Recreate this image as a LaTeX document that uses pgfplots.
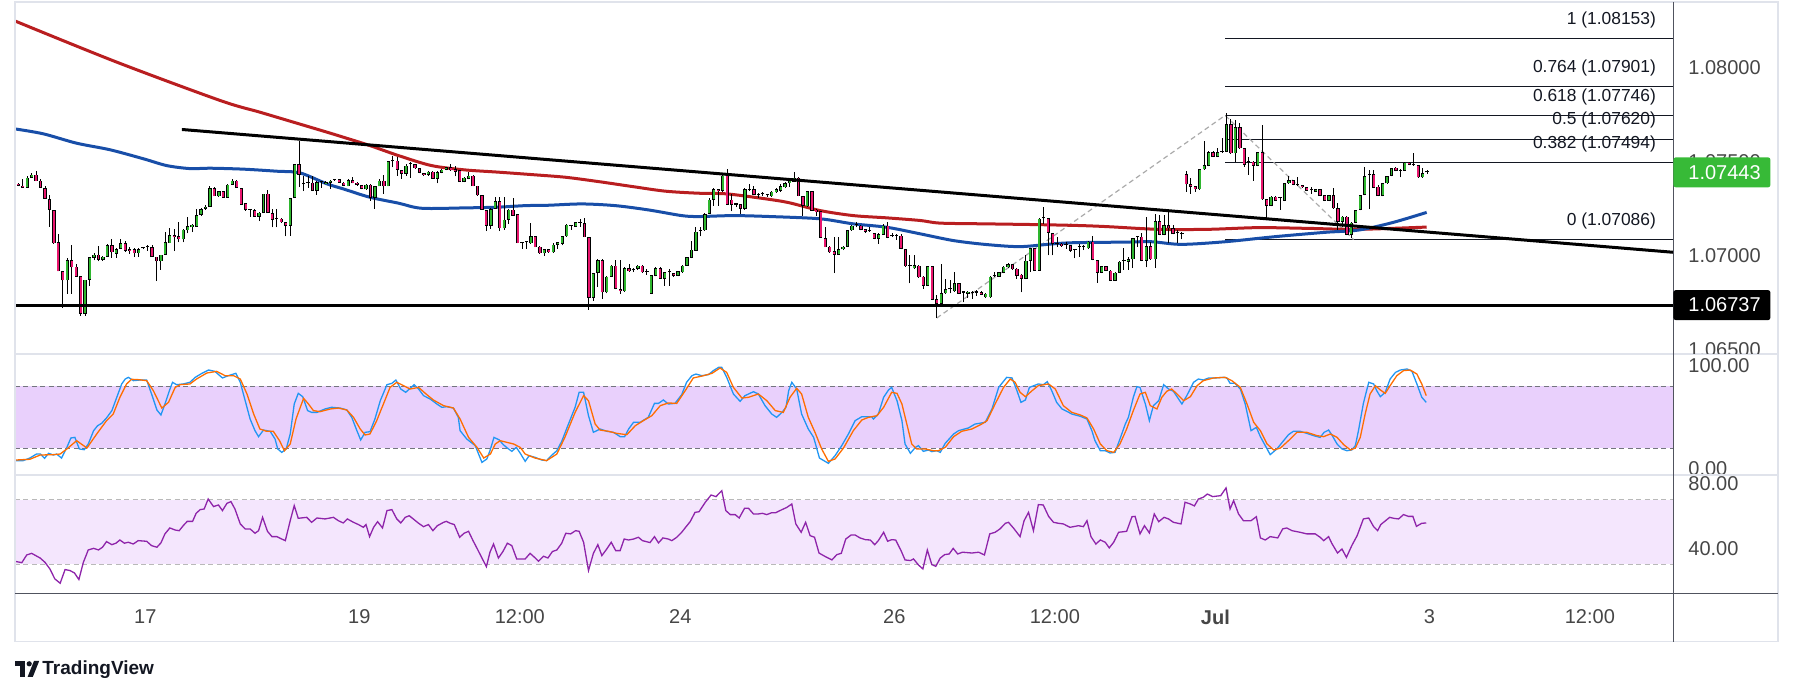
\documentclass[border=0pt]{standalone}
\usepackage{fontspec}
\setmainfont{Liberation Sans}
\usepackage{pgfplots}
\pgfplotsset{compat=1.18}
\usepackage{pgfplotstable}

\definecolor{upc}{RGB}{46,182,46}
\definecolor{dnc}{RGB}{233,22,110}
\definecolor{mared}{RGB}{185,30,32}
\definecolor{mablue}{RGB}{24,78,168}
\definecolor{stk}{RGB}{33,150,243}
\definecolor{std}{RGB}{255,109,0}
\definecolor{rsic}{RGB}{142,36,170}
\definecolor{bandA}{RGB}{233,208,252}
\definecolor{bandB}{RGB}{244,230,253}
\definecolor{framec}{RGB}{224,227,235}
\definecolor{dkline}{RGB}{80,83,94}
\definecolor{scaletxt}{RGB}{70,70,70}
\definecolor{tagc}{RGB}{55,186,55}
\definecolor{dashc}{RGB}{170,170,170}
\definecolor{tvdark}{RGB}{19,23,34}

% candles: n = hourly bar index, prices in pips above 1.06000 (e.g. 144.3 = 1.07443)
\pgfplotstableread{
n o h l c
-28 138.2 138.5 136.8 137.1
-27 137.3 140.8 136.0 136.0
-26 136.0 142.1 136.0 141.4
-25 141.4 143.8 141.4 143.1
-24 143.1 144.9 139.6 139.6
-23 139.9 140.7 136.0 136.0
-22 136.0 136.9 130.2 130.2
-21 130.2 132.0 115.5 124.3
-20 124.3 124.3 106.3 106.6
-19 107.3 111.6 91.7 91.7
-18 91.7 91.7 72.2 86.8
-17 86.8 98.8 79.7 97.7
-16 97.7 105.7 79.7 93.8
-15 94.2 95.3 88.9 88.9
-14 89.2 89.2 68.1 69.0
-13 69.0 87.3 68.1 87.3
-12 87.3 99.2 84.1 99.2
-11 98.8 101.3 97.5 100.6
-10 100.6 105.0 97.0 97.7
-9 97.7 99.8 97.2 99.5
-8 99.5 106.0 99.5 105.7
-7 105.7 108.9 98.8 101.8
-6 100.9 104.0 98.8 103.6
-5 103.6 108.9 103.6 106.6
-4 106.6 108.0 102.0 102.4
-3 103.6 104.8 100.9 102.4
-2 103.6 104.0 99.2 101.3
-1 101.3 104.0 99.2 103.6
0 103.9 104.5 103.4 104.1
1 104.4 105.4 102.7 104.6
2 104.5 105.4 99.2 99.2
3 99.5 99.5 86.4 97.0
4 97.0 100.6 92.4 100.6
5 100.6 112.5 100.6 107.1
6 106.6 114.6 106.6 111.0
7 111.0 114.2 102.4 109.8
8 110.2 117.8 107.1 108.7
9 108.7 114.2 107.1 113.9
10 113.4 120.8 111.9 115.8
11 115.1 117.0 112.5 116.5
12 115.5 124.9 115.5 121.7
13 121.7 125.5 121.0 124.9
14 124.9 127.2 124.3 126.1
15 125.8 137.3 125.8 136.0
16 136.0 136.4 131.6 131.6
17 131.6 134.6 131.3 134.3
18 134.3 134.6 130.7 130.7
19 130.7 138.0 130.7 137.8
20 137.8 140.5 137.8 139.9
21 139.9 140.3 136.0 136.0
22 136.0 136.0 127.2 127.2
23 127.9 127.9 124.0 124.3
24 124.7 125.0 120.8 124.5
25 124.3 125.0 120.8 120.8
26 120.8 123.3 118.3 122.9
27 122.6 132.9 122.6 132.9
28 132.9 135.0 122.6 122.6
29 122.6 124.9 115.1 119.0
30 119.6 124.9 115.1 119.4
31 119.6 119.9 117.5 117.8
32 117.8 118.0 110.2 116.0
33 116.0 130.7 110.7 130.7
34 130.7 149.0 130.7 148.5
35 148.5 161.2 136.4 143.1
36 138.2 142.1 134.3 138.0
37 138.9 142.1 136.0 138.8
38 138.9 142.6 134.3 134.6
39 134.6 139.5 132.3 139.2
40 139.2 139.6 136.0 139.3
41 138.2 139.6 138.0 139.2
42 138.9 140.2 135.5 139.9
43 140.2 140.6 139.8 140.4
44 140.7 140.9 138.9 138.9
45 138.9 139.0 137.0 137.1
46 136.8 140.7 136.8 140.3
47 140.3 141.7 138.5 138.5
48 138.9 139.0 137.3 137.5
49 137.5 137.5 135.3 135.5
50 135.3 138.0 135.0 137.8
51 137.8 138.0 129.3 130.7
52 130.7 137.1 124.9 136.8
53 136.8 140.5 136.8 139.9
54 139.9 143.1 132.9 136.8
55 136.8 150.6 136.8 150.1
56 150.1 153.2 147.0 150.3
57 150.6 152.4 142.6 145.6
58 145.6 145.8 140.8 143.5
59 143.5 148.5 142.6 147.9
60 148.7 149.7 141.4 148.8
61 148.8 149.0 146.3 146.5
62 146.5 146.6 143.8 144.0
63 144.0 144.0 142.3 142.8
64 142.8 145.2 142.6 144.7
65 144.7 145.2 140.8 140.8
66 140.8 145.0 138.5 144.4
67 144.0 146.0 143.8 145.8
68 145.6 147.2 145.4 147.0
69 147.0 148.5 145.0 145.3
70 146.1 147.9 142.1 144.7
71 145.3 145.5 139.1 139.1
72 139.1 141.6 139.0 141.4
73 140.8 144.4 140.5 142.6
74 142.6 142.8 136.8 136.8
75 137.3 137.3 131.8 132.0
76 132.3 132.5 124.3 124.3
77 124.3 124.5 113.0 116.0
78 116.0 125.2 114.2 124.9
79 124.9 131.4 124.9 128.8
80 128.8 131.4 113.0 114.6
81 114.6 131.1 113.9 119.2
82 119.2 125.0 116.9 124.5
83 124.5 130.7 121.0 121.3
84 121.9 122.4 106.6 106.6
85 106.6 107.0 103.6 106.8
86 107.0 107.4 103.8 107.2
87 106.6 117.6 106.3 110.2
88 110.2 110.5 104.5 104.5
89 104.8 105.0 101.0 101.3
90 101.3 103.8 100.0 103.6
91 103.6 103.8 101.6 101.8
92 101.8 106.5 101.6 105.9
93 105.9 107.5 103.6 107.1
94 106.3 110.5 105.4 110.2
95 110.2 116.8 110.0 116.4
96 116.0 116.5 113.7 116.2
97 115.5 118.0 115.3 117.8
98 117.6 119.6 115.5 117.8
99 117.4 120.1 109.8 109.8
100 109.8 110.0 71.2 77.5
101 77.5 91.0 75.8 90.8
102 90.8 98.2 83.2 97.7
103 97.7 98.2 77.0 80.5
104 80.5 89.1 80.0 88.9
105 88.9 95.0 88.7 94.7
106 94.7 97.7 82.0 82.3
107 82.3 97.7 79.7 81.1
108 81.1 93.8 80.8 93.5
109 93.5 95.3 91.5 91.7
110 92.4 93.3 91.2 92.2
111 93.0 95.2 92.4 94.7
112 94.7 95.0 91.0 91.2
113 91.6 92.8 89.8 91.4
114 79.7 89.9 79.5 89.8
115 89.1 93.8 89.0 93.5
116 93.5 93.8 87.5 87.6
117 87.6 91.5 84.1 91.2
118 91.2 93.0 84.1 91.4
119 90.8 91.0 88.9 89.1
120 89.1 92.0 89.0 91.7
121 91.2 95.0 91.0 94.7
122 94.7 99.5 94.5 99.2
123 98.8 108.0 98.6 103.2
124 102.7 115.1 102.5 112.8
125 113.1 115.5 110.2 113.4
126 113.4 122.5 113.2 122.2
127 122.2 130.7 122.0 129.8
128 129.8 135.8 126.6 135.5
129 135.5 135.7 126.6 134.3
130 134.3 143.0 134.0 142.6
131 142.6 146.2 127.2 127.2
132 129.7 132.9 123.6 127.2
133 127.4 127.6 125.8 127.2
134 127.5 127.7 122.2 124.9
135 124.9 135.8 124.5 135.5
136 135.2 138.2 134.3 135.0
137 135.5 137.3 132.3 132.5
138 132.0 133.2 130.7 132.2
139 132.9 133.9 131.6 132.8
140 132.2 132.6 131.1 132.1
141 131.6 134.5 131.4 134.1
142 133.7 135.8 133.5 135.5
143 134.3 138.2 134.0 136.8
144 136.4 139.0 136.2 138.7
145 138.5 140.2 136.4 139.9
146 139.4 144.4 139.2 141.4
147 141.4 141.7 131.6 131.6
148 131.6 131.8 121.3 126.6
149 126.3 134.6 126.0 134.3
150 134.3 134.6 123.8 124.0
151 124.5 124.7 121.3 123.1
152 123.5 123.7 109.4 109.4
153 109.4 115.1 104.5 104.5
154 104.8 105.0 101.6 101.8
155 102.4 109.8 90.7 100.6
156 100.6 109.8 100.4 103.6
157 103.3 105.0 103.0 104.8
158 104.8 113.8 104.6 113.4
159 113.4 116.5 113.2 116.0
160 116.6 117.8 115.1 116.4
161 116.0 116.3 113.5 113.7
162 114.0 114.2 112.0 112.5
163 113.0 115.1 112.8 112.9
164 112.1 112.3 108.7 108.9
165 108.9 111.8 106.3 111.6
166 111.2 116.9 111.0 116.0
167 116.0 117.8 109.2 109.4
168 110.4 111.9 109.8 110.3
169 110.7 111.6 108.4 110.5
170 110.7 111.6 103.4 103.6
171 103.6 103.8 94.2 94.4
172 94.7 100.1 85.3 94.6
173 93.3 100.1 93.0 94.9
174 94.7 95.0 88.3 88.5
175 88.9 89.1 82.3 84.1
176 84.1 94.6 84.0 94.4
177 94.4 94.6 76.3 76.5
178 77.0 79.0 66.9 74.3
179 74.3 95.6 74.0 80.2
180 80.0 87.6 79.8 82.0
181 82.0 87.1 80.0 82.1
182 81.1 91.2 80.8 85.5
183 85.3 85.5 79.5 79.7
184 80.6 80.8 75.2 80.4
185 79.7 81.1 77.5 80.9
186 80.0 81.4 77.0 80.2
187 80.6 81.8 78.8 80.4
188 80.6 81.0 79.0 79.3
189 77.9 80.0 77.5 79.7
190 77.9 89.1 77.7 88.9
191 89.0 91.2 88.9 89.1
192 88.9 91.5 88.7 91.2
193 90.8 94.4 90.6 94.2
194 93.8 96.3 93.6 95.6
195 95.6 95.8 92.6 92.8
196 93.0 93.2 87.6 89.4
197 89.9 90.1 80.5 87.6
198 87.6 100.1 87.4 97.4
199 97.4 104.2 91.2 104.0
200 104.0 104.2 92.0 92.1
201 92.1 119.8 92.0 119.6
202 119.9 125.8 116.9 120.1
203 119.9 120.1 100.1 112.1
204 112.1 112.3 100.1 106.3
205 106.4 109.8 104.5 106.2
206 106.3 106.5 104.8 105.0
207 105.6 107.1 103.6 105.5
208 105.5 105.7 102.2 102.4
209 103.6 103.8 98.6 103.1
210 104.8 106.2 99.4 104.9
211 104.8 105.7 103.0 104.9
212 103.9 107.6 103.7 107.4
213 107.4 110.6 97.5 97.7
214 97.7 97.9 85.6 90.9
215 90.9 94.7 90.7 94.5
216 94.5 94.7 91.8 92.0
217 92.0 92.2 86.5 86.7
218 86.7 91.1 86.5 90.9
219 90.9 97.0 90.7 96.8
220 97.3 103.9 92.4 97.4
221 96.8 99.4 92.4 98.0
222 98.0 109.4 93.3 109.2
223 110.1 110.4 104.8 110.0
224 110.1 111.9 97.1 97.3
225 97.3 120.4 93.8 105.1
226 105.1 107.4 97.8 98.0
227 98.0 121.9 93.3 118.4
228 118.4 121.6 110.8 111.0
229 111.0 121.6 110.8 116.3
230 116.3 124.3 106.5 114.5
231 114.5 116.3 111.3 111.5
232 111.9 113.6 106.5 111.8
233 111.5 112.7 108.7 111.4
234 143.4 145.0 134.0 137.9
235 137.9 141.1 132.8 136.7
236 137.0 137.2 134.0 135.3
237 135.3 146.1 135.1 145.9
238 145.9 161.1 145.7 148.2
239 147.7 155.7 147.5 154.9
240 154.9 155.7 152.4 152.6
241 152.6 157.1 152.4 154.9
242 155.2 162.4 154.7 155.3
243 155.3 176.0 155.1 169.8
244 169.8 172.5 154.2 154.4
245 154.4 172.1 150.0 168.2
246 168.2 170.4 156.9 157.1
247 157.1 157.3 147.3 148.2
248 150.0 152.6 142.9 149.9
249 150.0 150.2 139.9 147.7
250 147.7 155.1 147.5 154.9
251 154.9 169.5 129.7 129.9
252 129.9 130.1 119.8 126.4
253 126.4 131.6 126.2 131.4
254 131.4 131.6 129.0 129.2
255 130.4 130.7 124.3 130.5
256 129.2 138.7 129.0 138.5
257 138.5 142.4 138.3 140.2
258 140.2 140.4 137.4 137.6
259 137.6 141.6 137.3 137.5
260 137.6 137.8 136.1 136.3
261 136.3 136.5 134.4 134.6
262 134.9 136.3 132.8 134.8
263 134.0 135.5 133.8 135.3
264 135.3 135.5 131.5 131.7
265 132.2 132.4 129.0 129.2
266 129.2 132.4 129.0 132.2
267 132.2 135.8 125.0 125.2
268 125.2 127.8 113.6 118.1
269 118.1 120.9 115.4 120.7
270 120.7 120.9 110.8 111.0
271 111.0 117.7 109.2 117.5
272 117.5 124.5 117.3 124.3
273 124.3 132.4 124.1 132.2
274 132.2 147.0 132.0 142.4
275 142.8 145.5 124.6 142.9
276 143.4 145.5 135.9 136.1
277 136.7 137.6 131.5 131.7
278 131.7 138.7 131.5 138.5
279 138.5 142.6 138.3 142.4
280 142.4 146.6 142.2 146.4
281 146.8 147.0 144.8 145.0
282 145.2 145.9 141.6 145.1
283 145.2 149.6 145.0 149.4
284 149.4 149.6 148.0 148.2
285 148.2 154.8 147.9 148.1
286 148.2 148.4 141.4 141.6
287 141.6 146.8 141.4 143.8
288 144.6 145.5 143.4 144.3
}\candles

\pgfplotsset{
  tvpane/.style={
    scale only axis, anchor=south west, width=829pt,
    xmin=-28.73, xmax=343.15,
    axis line style={draw=none}, major tick length=0pt,
    xtick=\empty, yticklabel pos=right,
    yticklabel style={anchor=west, inner sep=0pt, xshift=7.5pt,
      font=\fontsize{10}{12}\selectfont, text=scaletxt},
  },
  candle/.style={draw=none, mark=none, forget plot,
    error bars/y dir=plus, error bars/y explicit, error bars/error mark=none},
}
\tikzset{
  fiblab/.style={anchor=east, yshift=9.3pt, inner sep=0pt,
    font=\fontsize{8.7}{10}\selectfont, text=tvdark},
}

\begin{document}
\begin{tikzpicture}
\useasboundingbox (0,0) rectangle (896.5pt,347.5pt);

% ---------------- price pane ----------------
\begin{axis}[tvpane, at={(7.5pt,170.5pt)}, height=176pt,
  ymin=47.7, ymax=234.9,
  ytick={100,150,200}, yticklabels={1.07000,1.07500,1.08000}]
% fibonacci levels
\addplot[tvdark, line width=0.55pt] coordinates {(242.7,108.6) (343.15,108.6)};
\addplot[tvdark, line width=0.55pt] coordinates {(242.7,149.4) (343.15,149.4)};
\addplot[tvdark, line width=0.55pt] coordinates {(242.7,162.0) (343.15,162.0)};
\addplot[tvdark, line width=0.55pt] coordinates {(242.7,174.6) (343.15,174.6)};
\addplot[tvdark, line width=0.55pt] coordinates {(242.7,190.1) (343.15,190.1)};
\addplot[tvdark, line width=0.55pt] coordinates {(242.7,215.3) (343.15,215.3)};
\addplot[dashc, line width=0.6pt, dash pattern=on 2.5pt off 1.7pt]
  coordinates {(178,66.8) (242.7,174.6) (271.5,108.6)};
% moving averages
\addplot[mared, line width=1.5pt, smooth] coordinates {
(-28.73,224.8) (-6,203.0) (17.3,182.5) (26.2,176.3) (33.7,171.0) (41.2,165.7)
(44.9,163.0) (50.8,158.6) (57.3,153.2) (64.7,147.9) (72.2,145.6) (79.7,144.4)
(87.2,143.1) (94.7,141.7) (102.1,139.4) (109.6,136.8) (117.1,134.3) (124.6,133.2)
(130.6,132.9) (136.9,131.1) (144.4,128.4) (151.8,124.0) (159.3,121.3) (166.8,120.1)
(174.3,118.7) (178.8,117.3) (189.2,116.9) (200.5,116.5) (210.2,116.0) (216.5,115.4)
(227.7,114.0) (238.9,114.0) (250.1,114.9) (261.4,114.5) (272.6,114.0) (287.9,115.2)};
\addplot[mablue, line width=1.5pt, smooth] coordinates {
(-28.73,167.4) (-22.4,164.8) (-14.9,159.8) (-7.4,156.3) (0.1,151.5) (5.3,147.9)
(10.5,146.3) (15.0,146.5) (22.5,146.0) (30,144.9) (35.2,144.0) (41.2,138.2)
(44.9,135.5) (50.8,131.1) (57.3,127.9) (62.5,125.2) (72.2,125.4) (79.7,125.8)
(85.7,126.6) (90.9,126.8) (98.4,127.5) (105.9,126.6) (113.4,124.3) (120.8,121.3)
(124.6,120.8) (132.4,121.3) (140.6,120.8) (151.8,119.6) (159.3,116.9) (166.8,115.1)
(174.3,111.6) (181.8,108.0) (189.2,105.9) (196.7,104.8) (204.2,106.3) (209,106.9)
(220.2,107.2) (226.2,107.4) (232.9,106.0) (242.7,107.4) (253.9,110.1) (265.1,112.4)
(272.6,113.6) (280.1,117.5) (287.9,123.0)};
% candles: wicks, outlines, bodies
\addplot[candle, error bars/error bar style={line width=0.5pt, draw=black}]
  table[x=n, y=l, y error plus expr=\thisrow{h}-\thisrow{l}] {\candles};
\addplot[candle, error bars/error bar style={line width=1.65pt, draw=black}]
  table[x=n, y expr={min(\thisrow{o},\thisrow{c})},
        y error plus expr={max(abs(\thisrow{c}-\thisrow{o}),0.55)}] {\candles};
\addplot[candle, restrict expr to domain={\thisrow{c}-\thisrow{o}}{0:1000},
  error bars/error bar style={line width=0.95pt, draw=upc}]
  table[x=n, y expr={min(\thisrow{o},\thisrow{c})+0.36},
        y error plus expr={max(abs(\thisrow{c}-\thisrow{o})-0.72,0)}] {\candles};
\addplot[candle, restrict expr to domain={\thisrow{c}-\thisrow{o}}{-1000:-0.001},
  error bars/error bar style={line width=0.95pt, draw=dnc}]
  table[x=n, y expr={min(\thisrow{o},\thisrow{c})+0.36},
        y error plus expr={max(abs(\thisrow{c}-\thisrow{o})-0.72,0)}] {\candles};
% trend line and support
\addplot[black, line width=1.5pt] coordinates {(8.7,167.1) (343.15,101.8)};
\addplot[black, line width=1.6pt] coordinates {(-28.73,73.7) (343.15,73.7)};
% fib labels
\node[fiblab] at (axis cs:339.4,215.3) {1 (1.08153)};
\node[fiblab] at (axis cs:339.4,190.1) {0.764 (1.07901)};
\node[fiblab] at (axis cs:339.4,174.6) {0.618 (1.07746)};
\node[fiblab] at (axis cs:339.4,162.0) {0.5 (1.07620)};
\node[fiblab] at (axis cs:339.4,149.4) {0.382 (1.07494)};
\node[fiblab] at (axis cs:339.4,108.6) {0 (1.07086)};
\coordinate (gtag) at (axis cs:343.15,144.3);
\coordinate (btag) at (axis cs:343.15,73.7);
\end{axis}

% ---------------- stochastic pane ----------------
\begin{axis}[tvpane, at={(7.5pt,110pt)}, height=60.5pt,
  ymin=-5.8, ymax=111.3,
  ytick={0,100}, yticklabels={0.00,100.00}]
\fill[bandA] (axis cs:-28.73,20) rectangle (axis cs:343.15,80);
\draw[dkline!80, line width=0.5pt, dash pattern=on 2.5pt off 1.7pt] (axis cs:-28.73,80) -- (axis cs:343.15,80);
\draw[dkline!80, line width=0.5pt, dash pattern=on 2.5pt off 1.7pt] (axis cs:-28.73,20) -- (axis cs:343.15,20);
\addplot[stk, line width=0.65pt] coordinates {
(-28.5,8.1)(-26.9,8.1)(-25.4,10.6)(-23.9,14.5)(-23.0,14.5)(-22.1,10.3)(-21.2,15.2)(-20.1,13.5)(-19.4,14.5)(-18.3,10.6)(-17.1,20.9)(-16.2,30.0)(-15.3,30.6)(-14.3,19.4)(-13.2,18.7)(-12.3,24.2)(-11.1,37.1)(-10.2,41.9)(-9.3,44.2)(-8.2,49.4)(-7.0,56.5)(-5.9,69.4)(-4.8,82.3)(-4.0,87.1)(-3.3,88.7)(-2.2,85.5)(-0.7,86.1)(0.8,86.1)(1.9,72.6)(3.1,57.1)(4.0,52.3)(4.9,62.9)(5.9,75.8)(6.6,83.9)(7.5,81.6)(9.0,82.3)(10.5,83.9)(11.7,88.7)(13.2,92.6)(14.7,95.8)(16.1,94.5)(17.8,88.1)(19.1,90.3)(20.8,92.6)(21.8,83.9)(22.9,66.1)(24.0,48.4)(25.1,37.1)(25.9,31.3)(27.0,37.7)(28.5,36.5)(29.6,29.0)(30.2,19.4)(31.1,16.1)(32.1,19.4)(33.0,33.9)(33.9,62.9)(34.8,73.2)(35.8,70.0)(36.9,56.5)(37.8,54.8)(39.0,54.8)(40.8,58.1)(42.3,59.7)(44.2,59.0)(45.7,57.1)(46.8,50.0)(47.9,37.7)(48.8,28.1)(49.8,35.5)(50.9,36.1)(52.0,48.4)(53.2,66.1)(54.7,81.6)(55.8,82.9)(56.7,86.1)(57.8,77.4)(58.9,74.2)(59.9,78.1)(60.8,81.6)(61.8,77.4)(62.9,71.0)(64.4,67.7)(65.9,62.9)(67.0,59.7)(68.1,60.3)(69.6,59.0)(70.7,50.0)(71.1,37.1)(72.6,29.0)(74.5,22.6)(76.0,6.4)(77.1,9.7)(77.8,17.7)(78.7,30.6)(79.9,28.1)(80.8,23.5)(81.7,20.3)(82.7,17.1)(83.7,20.9)(84.6,15.2)
(85.7,7.4)(86.6,12.9)(87.9,11.3)(89.4,8.7)(90.5,8.1)(91.7,13.5)(92.8,17.7)(93.9,26.8)(95.4,43.5)(96.9,59.7)(97.8,74.2)(98.8,74.2)(99.9,51.6)(101.0,35.5)(102.5,38.7)(104.0,36.5)(105.5,35.5)(107.0,31.3)(108.0,31.3)(108.9,38.7)(110.0,45.2)(111.5,45.2)(113.3,50.0)(114.7,63.5)(115.6,63.5)(116.7,66.8)(117.8,62.9)(119.3,63.5)(120.8,71.9)(121.9,83.9)(123.1,90.3)(124.0,91.9)(125.3,90.3)(126.8,91.3)(127.9,95.2)(129.1,98.4)(129.8,98.4)(130.9,88.7)(132.4,72.6)(133.9,65.5)(135.0,71.0)(136.9,74.8)(138.0,72.6)(139.5,61.3)(141.0,53.2)(142.1,50.0)(143.3,54.8)(144.2,59.7)(144.8,75.8)(145.5,83.9)(146.6,77.4)(147.7,53.2)(149.2,38.7)(150.4,30.6)(151.7,10.6)(153.7,5.5)(155.2,12.9)(156.7,22.6)(158.2,33.9)(159.7,46.8)(161.2,50.6)(163.4,50.6)(163.8,48.4)(164.9,53.2)(166.1,69.4)(167.2,76.5)(167.9,79.0)(169.1,66.1)(170.2,46.8)(170.9,24.2)(172.1,15.2)(173.2,20.9)(173.9,22.6)(175.0,17.1)(176.2,18.4)(176.9,16.8)(178.0,17.7)(178.8,16.1)(179.9,24.8)(181.8,33.9)(182.9,37.1)(185.1,39.7)(186.6,43.5)(188.9,45.2)(190.4,58.1)(191.9,79.0)(193.7,88.7)(194.9,88.1)(196.0,75.8)(196.9,64.5)(197.9,66.8)(198.8,79.0)(200.8,82.3)
(201.9,81.6)(202.8,84.5)(203.8,75.8)(204.9,64.5)(206.1,58.1)(207.2,55.8)(208.3,53.2)(210.2,51.0)(211.7,48.4)(212.8,37.1)(213.5,27.4)(214.7,17.7)(215.8,17.7)(216.9,15.5)(218.0,16.1)(219.1,29.0)(220.3,43.5)(221.0,50.0)(222.1,69.4)(222.9,79.7)(223.6,79.0)(224.8,62.9)(225.7,46.8)(226.6,61.3)(227.8,66.1)(228.9,81.6)(230.0,77.4)(231.1,75.2)(233.0,62.9)(234.1,71.0)(235.6,83.9)(236.7,87.1)(237.8,86.1)(239.0,88.1)(240.5,88.1)(242.3,88.7)(243.1,88.1)(243.8,82.9)(244.9,82.9)(246.1,77.4)(247.2,62.9)(248.5,37.1)(249.7,40.3)(250.6,31.3)(251.7,22.6)(252.8,13.9)(254.3,19.4)(255.8,27.4)(256.9,33.2)(258.0,36.5)(259.5,36.5)(261.0,34.5)(262.5,32.3)(264.0,30.6)(264.9,35.5)(265.9,37.7)(266.6,33.2)(267.8,24.2)(268.9,19.4)(270.0,17.7)(271.1,18.4)(271.9,22.6)(272.6,37.1)(273.7,63.5)(274.9,83.9)(276.0,82.3)(276.7,75.8)(277.5,70.0)(278.6,74.2)(279.7,87.1)(280.9,93.5)(282.0,95.8)(283.5,96.8)(284.6,94.5)(285.7,82.3)(286.8,69.4)(287.8,64.5)};
\addplot[std, line width=0.65pt] coordinates {
(-28.5,8.7)(-25.4,9.4)(-23.1,13.5)(-20.1,13.9)(-18.6,14.5)(-17.1,19.4)(-14.9,27.4)(-12.6,20.3)(-10.4,33.9)(-8.2,46.8)(-6.7,53.2)(-5.2,69.4)(-3.7,82.3)(-2.6,86.8)(-1.1,86.5)(0.8,85.5)(2.3,75.8)(4.2,59.0)(5.7,64.5)(7.2,79.0)(8.3,81.6)(10.5,82.3)(12.0,87.1)(14.3,92.9)(16.5,94.5)(18.4,90.3)(20.3,90.3)(21.8,87.1)(23.3,72.6)(24.8,53.2)(26.2,38.7)(27.7,36.5)(29.2,36.5)(30.6,27.4)(31.7,17.7)(33.0,24.2)(34.3,48.4)(36.0,68.4)(37.1,62.9)(38.2,56.5)(39.7,55.5)(42.0,58.1)(43.8,59.0)(45.7,57.1)(47.2,50.0)(48.7,38.7)(49.8,32.9)(50.9,33.9)(52.4,46.8)(53.9,62.9)(55.4,79.0)(56.9,83.9)(58.4,80.7)(59.9,77.4)(61.8,79.0)(63.3,73.2)(65.1,66.8)(67.4,61.3)(69.6,59.0)(71.1,48.4)(73.0,30.6)(74.9,20.9)(76.4,10.6)(77.9,14.5)(79.0,24.2)(80.1,27.4)(81.6,25.8)(83.1,24.2)(84.6,20.9)
(85.7,14.5)(87.9,10.6)(90.5,8.1)(92.8,14.5)(94.6,30.6)(96.9,54.8)(98.8,71.0)(99.9,66.1)(101.4,43.5)(102.5,37.7)(104.4,36.5)(106.2,34.5)(108.5,33.2)(110.4,41.9)(112.2,46.8)(114.1,51.6)(116.0,61.3)(117.8,63.9)(119.7,63.5)(121.6,75.8)(123.4,88.1)(125.7,90.3)(127.6,92.6)(129.4,97.7)(130.9,93.5)(132.4,79.0)(134.3,68.7)(135.8,69.4)(138.0,72.6)(139.9,66.1)(141.8,56.5)(143.6,54.8)(145.1,69.4)(146.6,78.1)(147.7,72.6)(149.2,50.0)(150.7,35.5)(152.2,19.4)(153.7,7.4)(155.2,9.7)(157.1,20.3)(159.3,37.1)(161.2,47.4)(162.7,50.0)(164.6,51.6)(166.1,59.7)(167.9,74.2)(169.1,73.2)(170.2,62.9)(171.3,43.5)(172.4,24.2)(173.5,19.4)(175.4,19.4)(177.3,17.7)(178.4,17.7)(179.9,20.9)(181.8,31.3)(183.6,36.5)(185.9,38.7)(188.1,43.5)(189.3,46.8)(191.1,62.9)(193.0,79.0)(194.5,87.1)(195.6,83.9)(196.7,74.2)(197.9,70.0)(199.4,75.8)(200.8,80.7)
(203.1,82.3)(204.6,77.4)(206.4,61.3)(208.3,54.8)(210.2,52.3)(211.7,49.4)(213.2,38.7)(214.7,24.2)(216.2,17.7)(217.7,16.1)(219.1,24.2)(220.6,38.7)(222.1,56.5)(223.6,72.6)(224.8,74.2)(225.9,61.3)(227.4,58.1)(228.5,69.4)(229.6,75.2)(230.7,77.4)(231.9,72.6)(233.4,66.1)(234.9,70.0)(236.4,80.6)(237.8,85.5)(240.1,88.1)(242.7,88.7)(244.2,85.5)(246.1,79.0)(247.6,62.9)(249.1,45.2)(250.6,37.1)(252.1,24.2)(253.6,18.4)(255.1,20.3)(256.9,27.4)(258.8,35.5)(261.0,35.5)(263.3,32.3)(264.8,31.3)(266.3,33.9)(267.8,30.6)(269.3,23.5)(270.8,18.4)(271.9,20.3)(273.0,30.6)(274.1,53.2)(275.2,72.6)(276.4,80.6)(277.5,76.5)(278.6,73.2)(279.7,80.6)(281.2,90.3)(282.7,95.2)(284.2,95.8)(285.7,91.9)(286.8,82.3)(287.8,71.0)};
\end{axis}

% ---------------- RSI pane ----------------
\begin{axis}[tvpane, at={(7.5pt,50.5pt)}, height=59.5pt,
  ymin=11.5, ymax=85.55,
  ytick={40,80}, yticklabels={40.00,80.00},
  xtick={0.5,48.5,84.5,120.5,168.5,204.5,240.5,288.5,324.5},
  xticklabels={17,19,12:00,24,26,12:00,\textbf{Jul},3,12:00},
  xticklabel style={anchor=center, yshift=-11.5pt,
    font=\fontsize{10}{12}\selectfont, text=scaletxt}]
\fill[bandB] (axis cs:-28.73,30) rectangle (axis cs:343.15,70);
\draw[gray!55, line width=0.5pt, dash pattern=on 2.5pt off 1.7pt] (axis cs:-28.73,70) -- (axis cs:343.15,70);
\draw[gray!55, line width=0.5pt, dash pattern=on 2.5pt off 1.7pt] (axis cs:-28.73,30) -- (axis cs:343.15,30);
\addplot[rsic, line width=0.65pt] coordinates {
(-28.5,31.7)(-27.2,31.0)(-26.1,35.8)(-25.0,36.8)(-23.1,33.9)(-22.0,31.2)(-20.9,27.1)(-19.8,20.9)(-18.6,18.2)(-17.5,26.7)(-16.4,26.1)(-15.4,24.6)(-14.4,20.5)(-13.4,31.2)(-12.3,38.9)(-11.1,39.9)(-10.0,38.9)(-9.1,40.6)(-8.2,44.1)(-7.0,42.2)(-6.1,43.1)(-5.2,45.1)(-4.2,43.1)(-3.3,43.7)(-2.2,42.6)(-1.1,44.7)(0.8,44.3)(1.9,41.6)(3.1,40.6)(4.0,43.3)(4.9,48.9)(6.0,52.6)(7.2,51.3)(8.1,50.9)(9.0,54.0)(9.9,56.7)(11.1,56.7)(11.9,61.7)(12.8,64.0)(13.7,64.4)(14.6,70.6)(15.8,65.9)(16.9,66.9)(17.8,63.4)(18.8,67.9)(19.7,69.0)(20.6,64.4)(21.8,55.1)(22.9,52.0)(24.0,52.0)(25.1,49.3)(25.9,50.9)(26.8,59.2)(27.9,50.5)(28.9,47.2)(30.0,47.2)(31.1,45.7)(31.9,44.7)(33.0,57.1)(33.9,66.5)(34.8,58.6)(36.7,59.2)(37.8,56.1)(39.0,58.8)(40.8,58.2)(42.7,59.2)(43.8,57.1)(44.9,55.7)(45.8,58.2)(47.2,56.1)(48.3,54.7)(49.4,53.0)(50.0,54.7)(50.8,47.2)(51.7,53.0)(52.6,56.5)(53.7,52.6)(54.7,63.4)(55.8,64.0)(56.9,58.2)(57.8,55.7)(58.8,59.2)(59.7,60.2)(60.6,58.2)(61.8,55.5)(62.9,53.4)(64.0,54.7)(65.0,50.9)(66.0,54.0)(67.4,56.1)(68.0,56.7)(68.9,55.5)(69.8,54.7)(71.0,46.8)(72.0,49.3)(73.0,50.5)(74.0,44.7)(74.9,39.9)(76.0,33.9)(77.0,28.5)(77.8,37.5)(78.6,42.6)(79.7,33.9)(80.7,37.9)(81.7,43.1)(82.7,41.6)(83.8,33.3)
(85.7,33.3)(86.8,36.8)(87.8,34.3)(88.7,31.9)(89.8,35.0)(90.8,33.9)(91.8,37.9)(92.8,38.9)(93.9,43.1)(94.8,49.3)(95.9,48.9)(97.0,50.9)(97.8,50.5)(98.8,43.7)(99.9,26.1)(101.0,36.8)(102.0,42.2)(102.9,35.4)(104.0,39.5)(105.0,43.7)(106.0,38.5)(107.0,38.5)(107.9,45.7)(108.9,45.1)(110.0,45.7)(111.1,46.8)(112.0,44.7)(113.7,43.5)(114.7,47.2)(115.6,43.3)(116.6,46.4)(117.8,45.7)(118.6,44.7)(119.7,46.8)(120.8,49.9)(121.8,53.4)(122.7,56.5)(123.8,62.3)(124.7,62.7)(126.1,68.6)(127.4,73.1)(128.5,72.1)(129.8,75.8)(130.7,63.4)(131.7,60.9)(132.8,60.9)(133.7,58.8)(134.9,64.8)(135.8,64.8)(136.9,61.3)(138.0,61.3)(138.9,61.7)(139.9,60.9)(141.0,62.1)(141.9,62.1)(143.3,64.0)(144.4,65.4)(145.5,67.5)(146.4,55.1)(147.6,49.9)(148.6,56.1)(149.6,47.8)(150.6,46.8)(151.6,37.0)(153.0,34.8)(154.5,32.7)(155.6,36.0)(156.6,36.8)(157.6,45.7)(158.8,48.2)(159.7,48.2)(160.8,46.4)(162.0,45.3)(163.1,45.1)(164.1,42.2)(164.9,44.7)(166.1,49.9)(167.0,44.3)(167.9,45.3)(168.8,45.1)(170.0,38.5)(170.9,32.7)(172.1,32.3)(172.8,33.3)(173.9,29.6)(174.9,27.1)(175.9,38.9)(176.9,29.8)(177.8,28.7)(178.8,33.9)(179.8,36.0)(180.8,36.4)(181.7,39.9)(182.7,36.4)(183.8,37.5)(185.9,37.0)(187.4,37.5)(188.7,35.8)(189.9,48.9)(191.1,49.9)(192.2,52.0)(193.4,55.5)(194.1,56.1)(195.2,52.6)(196.7,47.2)(197.6,57.1)(198.6,62.3)(199.7,50.9)(200.8,67.1)
(201.9,66.9)(203.1,59.8)(204.2,56.1)(205.3,55.5)(206.4,55.1)(207.9,53.0)(209.8,54.0)(210.9,53.4)(211.7,57.1)(212.6,47.2)(213.7,42.6)(214.7,45.1)(215.8,43.7)(216.7,40.2)(217.7,43.7)(218.8,49.9)(220.6,50.5)(221.8,59.6)(222.5,59.8)(223.6,48.9)(224.6,54.0)(225.7,49.5)(226.8,61.3)(227.8,56.5)(229.0,59.2)(230.0,58.2)(231.1,56.1)(232.8,55.1)(233.7,68.6)(234.9,67.5)(235.8,66.3)(236.7,70.6)(237.8,71.7)(238.7,73.7)(239.9,72.1)(241.7,72.7)(242.9,77.5)(243.8,64.4)(244.6,69.6)(245.7,61.3)(246.8,57.1)(248.5,57.1)(249.7,59.6)(250.6,46.4)(251.7,45.1)(252.8,47.2)(254.5,46.4)(255.6,52.0)(256.5,52.6)(257.7,50.9)(259.5,49.9)(261.0,48.9)(262.9,48.9)(264.0,46.8)(264.8,44.7)(265.9,47.2)(266.6,43.1)(267.9,37.0)(268.9,39.5)(269.9,34.3)(271.1,41.6)(272.3,47.8)(273.7,58.2)(274.9,58.8)(276.0,53.4)(276.9,50.9)(277.6,54.7)(279.6,59.2)(280.5,58.6)(281.6,58.2)(282.7,60.9)(283.8,59.8)(284.8,59.8)(285.6,53.6)(286.8,55.5)(287.8,55.7)};
\end{axis}

% ---------------- frame and separators ----------------
\draw[framec, line width=0.7pt] (7.5pt,26.65pt) rectangle (889pt,346.5pt);
\draw[framec, line width=0.7pt] (7.5pt,170.5pt) -- (889pt,170.5pt);
\draw[framec, line width=0.7pt] (7.5pt,110pt) -- (889pt,110pt);
\draw[dkline, line width=0.5pt] (7.5pt,50.5pt) -- (889pt,50.5pt);
\draw[dkline, line width=0.5pt] (836.5pt,26.65pt) -- (836.5pt,346.5pt);

% partially hidden 1.06500 label
\begin{scope}
\clip (837pt,170.8pt) rectangle (888pt,346pt);
\node[anchor=west, inner sep=0pt, font=\fontsize{10}{12}\selectfont, text=scaletxt]
  at (844pt,172.65pt) {1.06500};
\end{scope}

% price tags
\node[anchor=west, fill=tagc, minimum width=48.5pt, minimum height=15pt,
  inner sep=0pt, rounded corners=1.2pt] at (gtag) {};
\node[anchor=west, inner sep=0pt, text=white, font=\fontsize{10}{12}\selectfont]
  at ([xshift=7.5pt]gtag) {1.07443};
\node[anchor=west, fill=black, minimum width=48.5pt, minimum height=15pt,
  inner sep=0pt, rounded corners=1.2pt] at (btag) {};
\node[anchor=west, inner sep=0pt, text=white, font=\fontsize{10}{12}\selectfont]
  at ([xshift=7.5pt]btag) {1.06737};

% TradingView logo
\fill[tvdark] (7.5pt,14.6pt) rectangle (12.6pt,17pt);
\fill[tvdark] (10.2pt,9pt) rectangle (12.6pt,14.6pt);
\fill[tvdark] (14.6pt,15.6pt) circle (1.3pt);
\fill[tvdark] (13.8pt,9pt) -- (16.4pt,9pt) -- (19.6pt,17pt) -- (17pt,17pt) -- cycle;
\node[anchor=west, inner sep=0pt, font=\fontsize{9.5}{11}\selectfont\bfseries, text=tvdark]
  at (21pt,12.6pt) {TradingView};
\end{tikzpicture}
\end{document}
